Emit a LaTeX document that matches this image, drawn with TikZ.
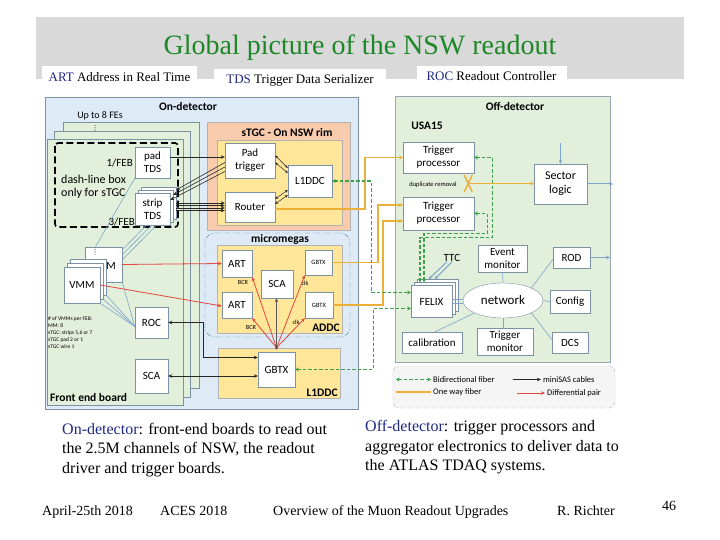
\documentclass[tikz,border=0pt]{standalone}
\usepackage{fontspec}
\setmainfont{Liberation Serif}
\newfontfamily\diagfont{Carlito}
\newfontfamily\dotsfont{DejaVu Sans}
\usetikzlibrary{arrows.meta,shapes.geometric}

\definecolor{titlegreen}{RGB}{30,135,40}
\definecolor{bandgray}{RGB}{217,217,217}
\definecolor{navy}{RGB}{31,40,130}
\definecolor{ondetfill}{RGB}{222,235,247}
\definecolor{boxline}{RGB}{125,145,165}
\definecolor{febfill}{RGB}{226,239,218}
\definecolor{rimfill}{RGB}{248,203,173}
\definecolor{goldfill}{RGB}{255,230,153}
\definecolor{fibergold}{RGB}{236,176,56}
\definecolor{fibergreen}{RGB}{60,160,76}
\definecolor{diffred}{RGB}{226,72,60}
\definecolor{thinblue}{RGB}{125,165,205}
\definecolor{mmblue}{RGB}{80,120,175}

\begin{document}
\begin{tikzpicture}[x=1pt,y=-1pt,>={Stealth[length=4pt,width=3.5pt]}]
\tikzstyle{every node}=[font=\diagfont\fontsize{11}{13}\selectfont,inner sep=0pt]
\tikzstyle{blk}=[draw=boxline,fill=white,align=center]
\tikzstyle{minibox}=[blk,font=\diagfont\fontsize{6.5}{7}\selectfont]
\tikzstyle{hdr}=[font=\diagfont\bfseries\fontsize{11.5}{13}\selectfont]
\tikzstyle{tag}=[font=\diagfont\fontsize{6.2}{7}\selectfont]
\tikzstyle{vdots}=[font=\dotsfont\fontsize{7}{7}\selectfont]
\tikzstyle{note}=[font=\diagfont\fontsize{5.5}{6.8}\selectfont,align=left,anchor=north west]
\tikzstyle{legend}=[font=\diagfont\fontsize{8.5}{10}\selectfont,anchor=west]
\tikzstyle{slide}=[font=\fontsize{16}{19.5}\selectfont,align=left,anchor=west]
\tikzstyle{foot}=[font=\fontsize{14}{16}\selectfont,anchor=base west]
\tikzstyle{tab}=[fill=white,font=\fontsize{13}{15}\selectfont]
\tikzstyle{cable}=[black!85,line width=0.6pt]
\tikzstyle{diffpair}=[diffred,line width=0.8pt,->]
\tikzstyle{oneway}=[fibergold,line width=1.5pt,-{Stealth[length=3.5pt,width=4pt]}]
\tikzstyle{bidir}=[fibergreen,line width=1.2pt,dash pattern=on 3.5pt off 2pt,{Stealth[length=3.5pt,width=4pt]}-{Stealth[length=3.5pt,width=4pt]}]
\tikzstyle{fanline}=[thinblue,line width=0.6pt]
\tikzstyle{bluearr}=[thinblue,line width=1pt,->]
\useasboundingbox (0,0) rectangle (720,540);

% slide title and tabs
\fill[bandgray] (36,17) rectangle (684,79);
\node[font=\fontsize{28}{30}\selectfont,text=titlegreen] (title) at (360,48) {Global picture of the NSW readout};
\node[tab,minimum width=155,minimum height=21] (arttab) at (119.5,77) {\textcolor{navy}{ART} Address in Real Time};
\node[tab,minimum width=172,minimum height=22] (tdstab) at (300,80) {\textcolor{navy}{TDS} Trigger Data Serializer};
\node[tab,minimum width=150,minimum height=21] (roctab) at (491.5,76.5) {\textcolor{navy}{ROC} Readout Controller};

% on-detector
\draw[boxline,fill=ondetfill] (45,97) rectangle (358,409);
\node[hdr] (ondet) at (188,107) {On-detector};
\draw[boxline,fill=febfill] (63,122) rectangle (199,388);
\draw[boxline,fill=febfill] (54,131) rectangle (190,397);
\draw[boxline,fill=febfill] (47,139) rectangle (183,405);
\node[font=\diagfont\fontsize{10}{12}\selectfont] (upto) at (100,116) {Up to 8 FEs};
\node[vdots] (fedots) at (95,128) {⋮};
\draw[line width=1.6pt,dash pattern=on 7pt off 3.5pt,rounded corners=3pt] (55,143) rectangle (178,227);
\node[anchor=west,align=left,font=\diagfont\fontsize{12}{13}\selectfont] (dashnote) at (61,186.5) {dash-line box\\only for sTGC};
\node[blk,minimum width=35,minimum height=31] (padtds) at (152.5,162.5) {pad\\TDS};
\node[anchor=east] (onefeb) at (133,163) {1/FEB};
\node[anchor=east] (threefeb) at (135,222) {3/FEB};
\node[blk,minimum width=35,minimum height=32] (strip3) at (158.5,203) {};
\node[blk,minimum width=35,minimum height=32] (strip2) at (155.5,206) {};
\node[blk,minimum width=35,minimum height=32] (striptds) at (152.5,209) {strip\\TDS};
\node[blk,minimum width=37,minimum height=35] (vmmrear) at (103.5,264.5) {};
\node (vmmrearname) at (111,266) {M};
\node[vdots] (vmmdots) at (95,252) {⋮};
\node[blk,minimum width=36,minimum height=36] (vmm3) at (88,277) {};
\node[blk,minimum width=36,minimum height=36] (vmm2) at (85,281) {};
\node[blk,minimum width=36,minimum height=36] (vmm) at (82,285) {VMM};
\node[blk,minimum width=33,minimum height=31] (roc) at (151.5,322.5) {ROC};
\node[blk,minimum width=33,minimum height=34] (febsca) at (151.5,376) {SCA};
\node[note] (vmmcount) at (48,317) {\# of VMMs per FEB:\\MM: 8\\sTGC: strips 5,6 or 7\\sTGC pad 2 or 1\\sTGC wire 1};
\node[hdr,anchor=west] (febname) at (50,398) {Front end board};

% sTGC rim
\draw[gray!60,fill=rimfill] (207,122) rectangle (350,230);
\node[hdr] (rimname) at (287,133) {sTGC - On NSW rim};
\draw[gray!60,fill=goldfill] (217,140) rectangle (342,225);
\node[blk,minimum width=50,minimum height=35] (padtrig) at (250,160.5) {Pad\\trigger};
\node[blk,minimum width=50,minimum height=30] (router) at (250,207) {Router};
\node[blk,minimum width=44,minimum height=32] (rimddc) at (310,181) {L1DDC};

% micromegas
\draw[mmblue,dash pattern=on 5pt off 2pt on 1pt off 2pt,rounded corners=10pt] (205,233) rectangle (350,337);
\node[hdr] (mmname) at (280,239) {micromegas};
\draw[gray!60,fill=goldfill] (217,245) rectangle (342,333);
\node[hdr,anchor=south east] (addcname) at (340,332) {ADDC};
\node[blk,minimum width=30,minimum height=27] (art1) at (237,263.5) {ART};
\node[blk,minimum width=30,minimum height=26] (art2) at (237,305) {ART};
\node[blk,minimum width=32,minimum height=28] (mmsca) at (277,284) {SCA};
\node[minibox,minimum width=27,minimum height=25] (gbtx1) at (318.5,262.5) {GBTX};
\node[minibox,minimum width=28,minimum height=26] (gbtx2) at (319,305) {GBTX};
\node[tag] (bcr1) at (243,283) {BCR};
\node[tag] (bcr2) at (251,328) {BCR};
\node[tag] (clk1) at (305,283) {clk};
\node[tag] (clk2) at (296,322) {clk};
\draw[gray!60,fill=goldfill] (218,348) rectangle (340,398);
\node[hdr,anchor=south east] (mmddcname) at (338,397) {L1DDC};
\node[blk,minimum width=37,minimum height=35] (gbtx) at (276.5,369.5) {GBTX};

% off-detector
\draw[boxline!80,fill=febfill] (395,96) rectangle (610,362);
\node[hdr] (offdet) at (515,107) {Off-detector};
\node[hdr] (usa) at (427,126) {USA15};
\node[blk,minimum width=71,minimum height=31] (trig1) at (438.5,157.5) {Trigger\\processor};
\node[blk,minimum width=71,minimum height=33] (trig2) at (438.5,213.5) {Trigger\\processor};
\node[font=\diagfont\fontsize{6.5}{7}\selectfont] (dupl) at (433,185) {duplicate removal};
\node[blk,minimum width=53,minimum height=40,font=\diagfont\fontsize{12}{14}\selectfont] (sector) at (560.5,184) {Sector\\logic};
\node[blk,minimum width=41,minimum height=32] (felix3) at (437.5,295.5) {};
\node[blk,minimum width=41,minimum height=32] (felix2) at (434.5,298.5) {};
\node[blk,minimum width=41,minimum height=32] (felix) at (431.5,301.5) {FELIX};
\node (ttc) at (452,258) {TTC};
\node[blk,ellipse,minimum width=80,minimum height=35,font=\diagfont\fontsize{13}{15}\selectfont] (net) at (503,300.5) {network};
\node[blk,minimum width=49,minimum height=27] (evmon) at (502.5,258.5) {Event\\monitor};
\node[blk,minimum width=37,minimum height=21] (rod) at (571.5,257.5) {ROD};
\node[blk,minimum width=40,minimum height=23] (config) at (570,301.5) {Config};
\node[blk,minimum width=36,minimum height=21] (dcs) at (570,342.5) {DCS};
\node[blk,minimum width=56,minimum height=27] (trigmon) at (505,341.5) {Trigger\\monitor};
\node[blk,minimum width=60,minimum height=21] (calib) at (432,342.5) {calibration};

% front end board links
\draw[fanline] ([xshift=-8]vmmrear.north) -- (padtds.south west);
\foreach \s/\t in {-3/-6,-8/-1,-13/4}
  \draw[fanline] ([yshift=\s]vmmrear.north east) -- ([xshift=\t]striptds.south);
\foreach \n in {vmm,vmm2,vmm3,vmmrear}
  \draw[fanline] (\n.south east) -- ([yshift=-4]roc.west);
\draw[cable,->] ([yshift=5.5]padtds.east) -- ([yshift=5.5]padtds.east -| padtrig.west);
\draw[cable,->] ([yshift=-2]padtrig.west) -- ([yshift=13]strip3.east);
\draw[cable,->] ([yshift=-6.5]padtrig.west) -- ([yshift=11]strip2.east);
\draw[cable,->] ([yshift=-11]padtrig.west) -- ([yshift=9]striptds.east);
\foreach \s in {4,1.5,-1,-3.5}
  \draw[cable,->] ([yshift=\s]router.west -| strip3.east) -- ([yshift=\s]router.west);
\draw[diffpair] (vmmrear.east) -- (art1.west);
\draw[diffpair] (vmm.east) -- ([yshift=-1]art2.west);
\draw[cable,<->] (roc.east) -- ++(35,0) |- ([yshift=12]gbtx.west);
\draw[cable,<->] (febsca.east) -- ([yshift=-6.5]gbtx.west);

% rim and ADDC links
\draw[cable,line width=0.5pt,{Stealth[length=3pt,width=2.5pt]}-{Stealth[length=3pt,width=2.5pt]}] ([yshift=5]padtrig.east) -- ([yshift=13]rimddc.west);
\draw[cable,line width=0.5pt,{Stealth[length=3pt,width=2.5pt]}-{Stealth[length=3pt,width=2.5pt]}] ([yshift=-2]padtrig.east) -- ([yshift=8]rimddc.west);
\draw[cable,line width=0.5pt,{Stealth[length=3pt,width=2.5pt]}-{Stealth[length=3pt,width=2.5pt]}] ([yshift=8]router.east) -- ([yshift=-9]rimddc.west);
\draw[cable,line width=0.5pt,{Stealth[length=3pt,width=2.5pt]}-{Stealth[length=3pt,width=2.5pt]}] ([yshift=3]router.east) -- ([yshift=-14]rimddc.west);
\coordinate (hub) at ([yshift=4]gbtx.north);
\foreach \t in {art1.south east,art2.south east,gbtx1.south west,gbtx2.south west}
  \draw[diffpair] (hub) -- (\t);
\draw[cable,gray!70!black,->] (hub) -- (hub |- mmsca.south);
\fill[diffred!60!black] (hub) circle (1.5);

% fibers
\draw[oneway] ([yshift=-2]router.east) -- ++(90,0) |- (trig1.west);
\draw[oneway] (gbtx1.east) -- ++(46,0) |- ([yshift=8.5]trig2.west);
\draw[oneway] (gbtx2.east) -- ++(50,0) |- ([yshift=-7.5]trig2.west);
\draw[bidir] (rimddc.east) -- ++(39,0) |- ([yshift=9]felix.west);
\draw[bidir] (gbtx.east) -- ++(78,0) |- ([yshift=-7]felix.west);
\draw[bidir] (trig1.east) -- ++(18,0) -- ++(0,80) -| ([xshift=-14.5]felix2.north);
\draw[bidir] (trig2.east) -- ++(13,0) -- ++(0,20) -| ([xshift=-10.5]felix2.north);
\draw[fibergold,line width=1.5pt] ([xshift=-10,yshift=-2]trig1.south east) -- coordinate[midway] (dup) ([xshift=-2,yshift=5]trig2.north east);
\draw[fibergold,line width=1.5pt] ([xshift=-2,yshift=-2]trig1.south east) -- ([xshift=-10,yshift=5]trig2.north east);
\draw[oneway] (dup) -- (dup -| sector.west);

% off-detector links
\draw[bluearr] ([yshift=21]sector.north) -- (sector.north);
\draw[bluearr] (sector.east) -- ++(26,0);
\draw[bluearr] (rod.east) -- ++(20,0);
\draw[bluearr] ([xshift=-5]ttc.south) -- ([xshift=-9]felix3.north);
\draw[bluearr] (ttc.south) -- ([xshift=-3]felix3.north);
\draw[fanline] ([yshift=2]felix.east) -- ([yshift=2]felix.east -| net.west);
\draw[fanline] ([yshift=-1.5]felix.east) -- ([yshift=-1.5]felix.east -| net.west);
\draw[fanline] (net.north) -- (evmon.south);
\draw[fanline] (net.north east) -- ([yshift=-2]rod.west);
\draw[fanline] (net.east) -- (config.west);
\draw[fanline] (net.south east) -- ([yshift=3]dcs.west);
\draw[fanline] (net.south) -- (net.south |- trigmon.north);
\draw[fanline] (net.south west) -- ([xshift=3]calib.north);

% legend
\draw[gray!60,fill=gray!8,rounded corners=6pt,dash pattern=on 4pt off 1.5pt on 1pt off 1.5pt] (393,366) rectangle (615,408);
\node[legend] (lgbid) at (433,379.5) {Bidirectional fiber};
\node[legend] (lgone) at (433,392) {One way fiber};
\node[legend] (lgsas) at (543,379.5) {miniSAS cables};
\node[legend] (lgdiff) at (547,393) {Differential pair};
\draw[bidir] ([xshift=-37]lgbid.west) -- ([xshift=-2]lgbid.west);
\draw[fibergold,line width=1.5pt] ([xshift=-37]lgone.west) -- ([xshift=-2]lgone.west);
\draw[cable,->] ([xshift=-30]lgsas.west) -- ([xshift=-2]lgsas.west);
\draw[diffpair] ([xshift=-30]lgdiff.west) -- ([xshift=-2]lgdiff.west);

% slide text
\node[slide] (ontext) at (62,450) {\textcolor{navy}{On-detector}: front-end boards to read out\\the 2.5M channels of NSW, the readout\\driver and trigger boards.};
\node[slide] (offtext) at (365,447.5) {\textcolor{navy}{Off-detector}: trigger processors and\\aggregator electronics to deliver data to\\the ATLAS TDAQ systems.};
\node[foot] (date) at (42,515.5) {April-25th 2018};
\node[foot] (conf) at (160,515.5) {ACES 2018};
\node[foot] (talk) at (273,515.5) {Overview of the Muon Readout Upgrades};
\node[foot] (speaker) at (557,515.5) {R. Richter};
\node[foot,anchor=base] (page) at (669,510) {46};
\end{tikzpicture}
\end{document}
